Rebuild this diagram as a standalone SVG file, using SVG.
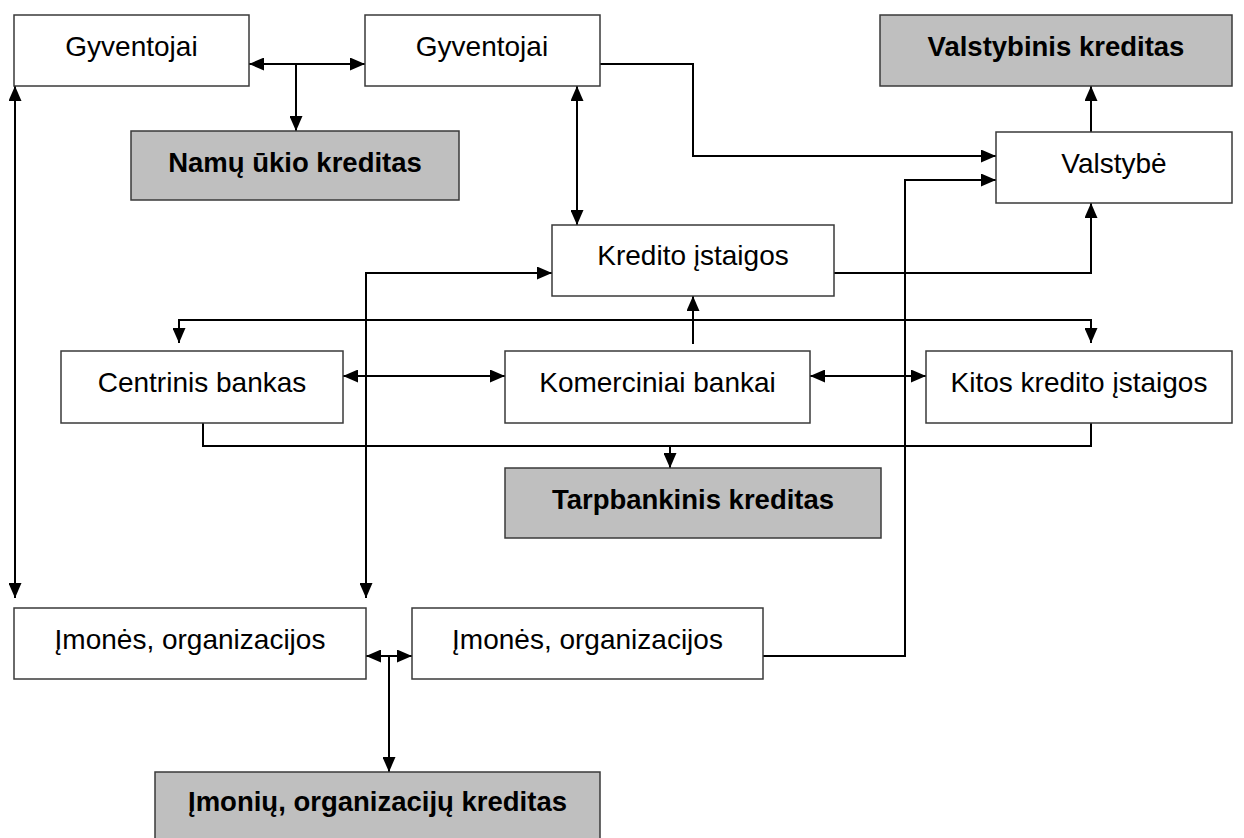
<svg xmlns="http://www.w3.org/2000/svg" width="1244" height="838" viewBox="0 0 1244 838">
<style>
.box{fill:#ffffff;stroke:#3a3a3a;stroke-width:1.5}
.gbox{fill:#bfbfbf;stroke:#3a3a3a;stroke-width:1.5}
.t{font-family:"Liberation Sans",Arial,sans-serif;font-size:28px;fill:#000;text-anchor:middle}
.b{font-weight:bold;font-size:27.5px}
.c{fill:none;stroke:#000;stroke-width:2}
.a{marker-end:url(#ah)}
.aa{marker-start:url(#ah);marker-end:url(#ah)}
</style>
<defs>
<marker id="ah" viewBox="0 0 15 13" refX="15" refY="6.5" markerWidth="15" markerHeight="13" markerUnits="userSpaceOnUse" orient="auto-start-reverse">
<path d="M0,0 L15,6.5 L0,13 z" fill="#000"/>
</marker>
</defs>
<rect width="1244" height="838" fill="#ffffff"/>
<g id="connectors">
<path class="c aa" d="M249,64 H365"/>
<path class="c a" d="M296,64 V131"/>
<path class="c aa" d="M15,86 V598"/>
<path class="c a" d="M600,64 H693 V156 H996"/>
<path class="c aa" d="M577,86 V225"/>
<path class="c a" d="M834,273 H1091 V203"/>
<path class="c a" d="M1091,132 V86"/>
<path class="c aa" d="M366,598 V273 H552"/>
<path class="c a" d="M693,344 V296"/>
<path class="c aa" d="M179,343 V320 H1091 V343"/>
<path class="c aa" d="M343,376 H505"/>
<path class="c aa" d="M810,376 H926"/>
<path class="c" d="M203,423 V446 H1091 V423"/>
<path class="c a" d="M670,446 V468"/>
<path class="c aa" d="M366,656 H412"/>
<path class="c a" d="M389,656 V772"/>
<path class="c a" d="M763,656 H905 V180 H996"/>
</g>
<g id="gyventojai1"><rect class="box" x="14" y="15" width="235" height="71"/><text class="t" x="131.5" y="56">Gyventojai</text></g>
<g id="gyventojai2"><rect class="box" x="365" y="15" width="235" height="71"/><text class="t" x="482" y="56">Gyventojai</text></g>
<g id="namu-ukio-kreditas"><rect class="gbox" x="131" y="131" width="328" height="69"/><text class="t b" x="295" y="172">Namų ūkio kreditas</text></g>
<g id="valstybinis-kreditas"><rect class="gbox" x="880" y="15" width="352" height="71"/><text class="t b" x="1056" y="56">Valstybinis kreditas</text></g>
<g id="valstybe"><rect class="box" x="996" y="132" width="236" height="71"/><text class="t" x="1114" y="173">Valstybė</text></g>
<g id="kredito-istaigos"><rect class="box" x="552" y="225" width="282" height="71"/><text class="t" x="693" y="265">Kredito įstaigos</text></g>
<g id="centrinis-bankas"><rect class="box" x="61" y="351" width="282" height="72"/><text class="t" x="202" y="392">Centrinis bankas</text></g>
<g id="komerciniai-bankai"><rect class="box" x="505" y="351" width="305" height="72"/><text class="t" x="657.5" y="392">Komerciniai bankai</text></g>
<g id="kitos-kredito-istaigos"><rect class="box" x="926" y="351" width="306" height="72"/><text class="t" x="1079" y="392">Kitos kredito įstaigos</text></g>
<g id="tarpbankinis-kreditas"><rect class="gbox" x="505" y="468" width="376" height="70"/><text class="t b" x="693" y="509">Tarpbankinis kreditas</text></g>
<g id="imones1"><rect class="box" x="14" y="608" width="352" height="71"/><text class="t" x="190" y="649">Įmonės, organizacijos</text></g>
<g id="imones2"><rect class="box" x="412" y="608" width="351" height="71"/><text class="t" x="587.5" y="649">Įmonės, organizacijos</text></g>
<g id="imoniu-kreditas"><rect class="gbox" x="155" y="772" width="445" height="70"/><text class="t b" x="377.5" y="811">Įmonių, organizacijų kreditas</text></g>
</svg>
